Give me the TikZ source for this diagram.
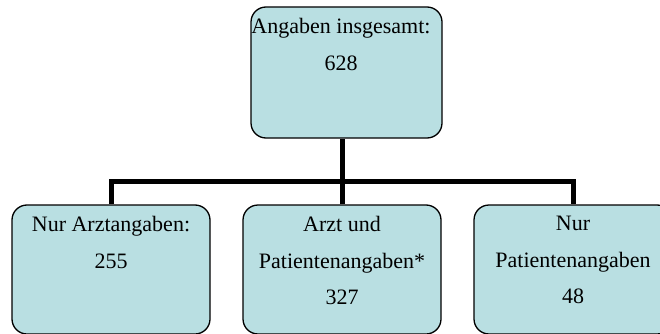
\documentclass[tikz,border=0pt]{standalone}
\usepackage{fontspec}
\setmainfont{Liberation Serif}
\usetikzlibrary{positioning}
\definecolor{boxfill}{RGB}{185,223,226}

\begin{document}
\begin{tikzpicture}
	[x=1pt,y=-1pt,
	 box/.style={draw,line width=1.3pt,fill=boxfill,rounded corners=15pt,inner sep=0pt},
	 txt/.style={align=center,inner sep=0pt,font=\fontsize{22}{36.5}\selectfont},
	 link/.style={line width=5pt}]
\useasboundingbox (0,0) rectangle (660,334);
\clip (0,0) rectangle (660,334);

\node[box,minimum width=191pt,minimum height=131pt](total) at (346.5,72.5) {};
\node[box,minimum width=198pt,minimum height=129pt](arzt) at (111,269.5) {};
\node[box,minimum width=198pt,minimum height=129pt](beide) at (342,269.5) {};
\node[box,minimum width=198pt,minimum height=129pt](patient) at (573,269.5) {};

\node[txt](total_t)[below = 12pt of total.north, xshift=-5.5pt]{Angaben insgesamt:\\628};
\node[txt](arzt_t)[below = 12pt of arzt.north]{Nur Arztangaben:\\255};
\node[txt](beide_t)[below = 12pt of beide.north]{Arzt und\\Patientenangaben*\\327};
\node[txt](patient_t)[below = 12pt of patient.north]{Nur\\Patientenangaben\\48};

\coordinate (bus) at (0,181.5);
\draw[link] (beide.north) -- (beide.north |- total.south);
\draw[link] (arzt.north) -- (arzt.north |- bus) -- (patient.north |- bus) -- (patient.north);
\end{tikzpicture}
\end{document}
